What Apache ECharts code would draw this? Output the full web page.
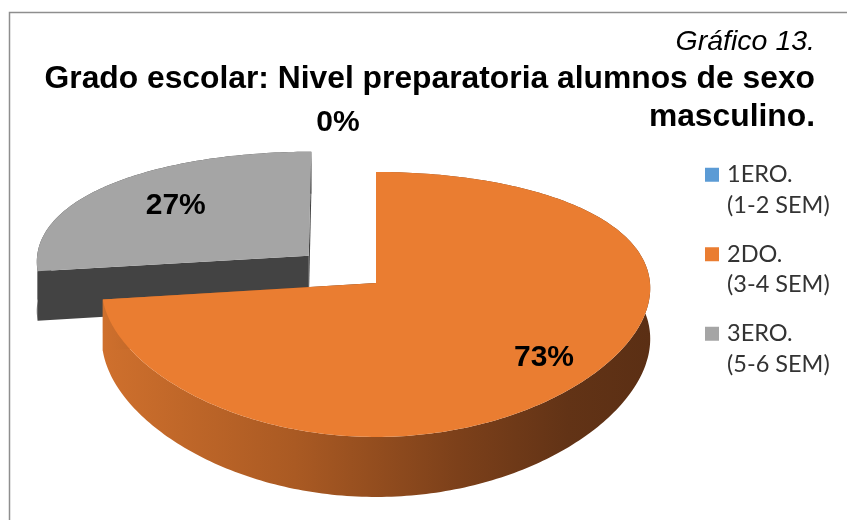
<!DOCTYPE html>
<html>
<head>
<meta charset="utf-8">
<script src="https://cdn.jsdelivr.net/npm/echarts@6/dist/echarts.min.js"></script>
<style>
    html, body {margin: 0; padding: 0; background: #fff;}
    #pie_3d {width: 847px; height: 520px;}
</style>
</head>
<body>
<div id="pie_3d"></div>
<script>
var categories = ['1ERO. (1-2 SEM)', '2DO. (3-4 SEM)', '3ERO. (5-6 SEM)'];
var values = [0, 73, 27];
var labels = ['0%', '73%', '27%'];

function draw_pie() {
    var myChart = echarts.init(document.getElementById('pie_3d'));

    // perspective of the 3d disc
    var K = 0.162, KX = 0.04, T = 0.39;
    var explode = [0, 0, 0.33];
    var labelRadius = [1.55, 0.8, 0.67];
    var labelShift = [-38, 0, 0];
    var topColors = ['#5B9BD5', '#EA7D31', '#A5A5A5'];
    var sideColors = [
        '#41719C',
        {
            type: 'linear', x: 0, y: 0, x2: 1, y2: 0,
            colorStops: [
                {offset: 0, color: '#CF702D'},
                {offset: 0.35, color: '#AA5A23'},
                {offset: 0.65, color: '#7C401A'},
                {offset: 0.85, color: '#623316'},
                {offset: 1, color: '#5B2F14'}
            ]
        },
        '#434343'
    ];

    var total = 0;
    for (var i = 0; i < values.length; i++) total += values[i];

    function rad(d) { return d * Math.PI / 180; }

    function makeRender(idx) {
        return function (params, api) {
            var before = 0;
            for (var j = 0; j < idx; j++) before += values[j];
            var a0 = before / total * 360;
            var a1 = (before + values[idx]) / total * 360;
            var am = (a0 + a1) / 2;
            var ox = explode[idx] * Math.sin(rad(am));
            var oy = explode[idx] * Math.cos(rad(am));

            function proj(u, v, h) {
                var X = u / (1 + KX * v);
                var Y = v / (1 + K * v) - h * T / (1 + K * v);
                return api.coord([X, Y]);
            }

            function rim(h, r) {
                var pts = [];
                var n = Math.max(2, Math.ceil(a1 - a0));
                for (var s = 0; s <= n; s++) {
                    var a = rad(a0 + (a1 - a0) * s / n);
                    pts.push(proj(ox + r * Math.sin(a), oy + r * Math.cos(a), h));
                }
                return pts;
            }

            function wall(a) {
                var u = ox + Math.sin(rad(a)), v = oy + Math.cos(rad(a));
                return [proj(ox, oy, 0), proj(u, v, 0), proj(u, v, 1), proj(ox, oy, 1)];
            }

            var children = [];
            if (a1 > a0) {
                var side = rim(0, 1).concat(rim(1, 1).reverse());
                children.push({type: 'polygon', shape: {points: side}, style: {fill: sideColors[idx]}});
                children.push({type: 'polygon', shape: {points: wall(a0)}, style: {fill: sideColors[idx]}});
                children.push({type: 'polygon', shape: {points: wall(a1)}, style: {fill: sideColors[idx]}});
                var top = [proj(ox, oy, 0)].concat(rim(0, 1));
                children.push({type: 'polygon', shape: {points: top}, style: {fill: topColors[idx]}});
            }

            var lr = labelRadius[idx];
            var lp = proj(ox + lr * Math.sin(rad(am)), oy + lr * Math.cos(rad(am)), 0);
            children.push({
                type: 'text',
                x: lp[0] + labelShift[idx],
                y: lp[1],
                style: {
                    text: labels[idx],
                    fontFamily: 'Liberation Sans',
                    fontWeight: 'bold',
                    fontSize: 30,
                    fill: '#000',
                    align: 'center',
                    verticalAlign: 'middle'
                }
            });
            return {type: 'group', children: children};
        };
    }

    var series = [];
    var zs = [3, 2, 1];
    for (var k = 0; k < categories.length; k++) {
        series.push({
            name: categories[k],
            type: 'custom',
            coordinateSystem: 'cartesian2d',
            z: zs[k],
            silent: true,
            itemStyle: {color: topColors[k]},
            data: [[0, 0]],
            renderItem: makeRender(k)
        });
    }

    option = {
        animation: false,
        backgroundColor: '#fff',
        title: [
            {
                text: 'Gráfico 13.',
                left: 815,
                top: 25,
                padding: 0,
                textAlign: 'right',
                textStyle: {
                    fontFamily: 'Liberation Sans',
                    fontStyle: 'italic',
                    fontWeight: 'normal',
                    fontSize: 28.5,
                    lineHeight: 34,
                    color: '#000'
                }
            },
            {
                text: 'Grado escolar: Nivel preparatoria alumnos de sexo\nmasculino.',
                left: 815,
                top: 60,
                padding: 0,
                textAlign: 'right',
                textStyle: {
                    fontFamily: 'Liberation Sans',
                    fontWeight: 'bold',
                    fontSize: 31.8,
                    lineHeight: 38,
                    color: '#000'
                }
            }
        ],
        legend: {
            orient: 'vertical',
            left: 705,
            top: 129,
            padding: 0,
            itemWidth: 14,
            itemHeight: 14,
            itemGap: -12,
            icon: 'rect',
            data: categories,
            formatter: function (name) {
                var parts = name.split(' (');
                return '\n{t|' + parts[0] + '}\n{t|(' + parts[1] + '}';
            },
            textStyle: {
                fontFamily: 'Lato',
                fontSize: 23.5,
                lineHeight: 30.5,
                color: '#333',
                rich: {
                    t: {
                        fontFamily: 'Lato',
                        fontSize: 23.5,
                        lineHeight: 30.5,
                        color: '#333',
                        padding: [0, 0, 0, 3]
                    }
                }
            }
        },
        graphic: [
            {
                type: 'rect',
                silent: true,
                shape: {x: 9.5, y: 12.5, width: 900, height: 600},
                style: {fill: 'none', stroke: '#8e8e8e', lineWidth: 1.5}
            }
        ],
        grid: {left: 19.8, width: 712.4, top: 89.5, height: 425.7},
        xAxis: {type: 'value', min: -1.3, max: 1.3, show: false},
        yAxis: {type: 'value', min: -1.8, max: 1.5, show: false},
        series: series
    };

    myChart.setOption(option);
}

draw_pie();
</script>
</body>
</html>
